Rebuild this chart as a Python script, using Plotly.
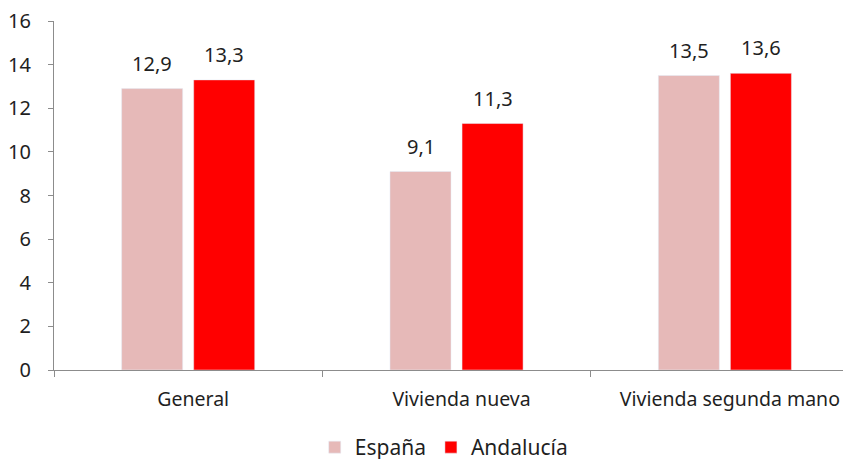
import plotly.graph_objects as go

categories = ["General", "Vivienda nueva", "Vivienda segunda mano"]
espana = [12.9, 9.1, 13.5]
andalucia = [13.3, 11.3, 13.6]
y_ticks = [0, 2, 4, 6, 8, 10, 12, 14, 16]

FONT = "Noto Sans"
TXT = "#1f1f1f"
AX = "#8c8c8c"
FS = 20
BARGAP = 0.463
BARGROUPGAP = 0.153

fig = go.Figure()
fig.add_trace(go.Bar(name="España", x=categories, y=espana, marker_color="#E6B9B8"))
fig.add_trace(go.Bar(name="Andalucía", x=categories, y=andalucia, marker_color="#FF0000"))

# value labels above each bar, placed at the bar's centre within its group
slot = (1 - BARGAP) / 2
for s, vals in enumerate([espana, andalucia]):
    off = (s - 0.5) * slot
    for i, v in enumerate(vals):
        fig.add_annotation(
            x=i + off, y=v, xref="x", yref="y",
            text=f"{v:.1f}".replace(".", ","), showarrow=False,
            yanchor="bottom", xanchor="center", yshift=10,
            font=dict(family=FONT, size=FS, color=TXT),
        )

fig.update_layout(
    width=851, height=451,
    margin=dict(l=46, r=8, t=13, b=89, autoexpand=False),
    paper_bgcolor="white", plot_bgcolor="white",
    barmode="group", bargap=BARGAP, bargroupgap=BARGROUPGAP,
    separators=",.",
    font=dict(family=FONT, size=FS, color=TXT),
    showlegend=True,
    legend=dict(orientation="h", x=0.489, xanchor="center", y=-0.222, yanchor="middle",
                font=dict(family=FONT, size=21, color=TXT), itemwidth=30,
                traceorder="normal"),
)
fig.update_xaxes(
    range=[-0.5, 2.47], showline=True, linecolor=AX, linewidth=1,
    ticks="outside", tickson="boundaries", ticklen=6, tickcolor=AX,
    showgrid=False, tickfont=dict(family=FONT, size=19.5, color=TXT),
    ticklabelstandoff=12, ticklabelshift=5, automargin=False,
    ticklabeloverflow="allow",
)
fig.update_yaxes(
    range=[0, 16], tickvals=y_ticks, showline=True, linecolor=AX, linewidth=1,
    ticks="outside", ticklen=5, tickcolor=AX, showgrid=False, zeroline=False,
    tickfont=dict(family=FONT, size=FS, color=TXT), ticklabelstandoff=13,
    automargin=False, ticklabeloverflow="allow",
)

fig.write_html("out.html")
